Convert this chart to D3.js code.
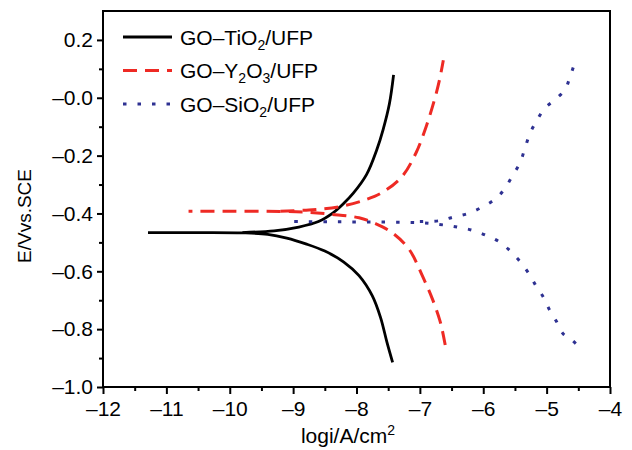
<!DOCTYPE html>
<html>
<head>
<meta charset="utf-8">
<style>
  body { margin: 0; background: #fff; }
  text { font-family: Arial, "Liberation Sans", sans-serif; fill: #000; }
</style>
</head>
<body>
<div id="my_dataviz"></div>
<script src="https://d3js.org/d3.v7.min.js"></script>
<script>

// tick values and labels
var xTicks = [-12, -11, -10, -9, -8, -7, -6, -5, -4];
var xTickLabels = ["–12", "–11", "–10", "–9", "–8", "–7", "–6", "–5", "–4"];
var xMinor = [-11.5, -10.5, -9.5, -8.5, -7.5, -6.5, -5.5, -4.5];
var yTicks = [-1.0, -0.8, -0.6, -0.4, -0.2, 0.0, 0.2];
var yTickLabels = ["–1.0", "–0.8", "–0.6", "–0.4", "–0.2", "–0.0", "0.2"];
var yMinor = [-0.9, -0.7, -0.5, -0.3, -0.1, 0.1];

// legend labels: [text, subscript] pieces
var tio2Label = [["GO–TiO", ""], ["2", "sub"], ["/UFP", ""]];
var y2o3Label = [["GO–Y", ""], ["2", "sub"], ["O", ""], ["3", "sub"], ["/UFP", ""]];
var sio2Label = [["GO–SiO", ""], ["2", "sub"], ["/UFP", ""]];

// polarization curves, [log i, E]
// cathodic branch runs from the lower end to the leftmost tip, anodic from the flat part up
var tio2Cathodic = [[-7.43, -0.915], [-7.52, -0.845], [-7.62, -0.76], [-7.75, -0.685], [-7.96, -0.615],
  [-8.2, -0.568], [-8.5, -0.53], [-8.80, -0.505], [-9.10, -0.485], [-9.40, -0.472],
  [-9.80, -0.467], [-10.5, -0.466], [-11.29, -0.466]];
var tio2Anodic = [[-9.8, -0.466], [-9.3, -0.46], [-8.91, -0.447], [-8.6, -0.428], [-8.37, -0.398],
  [-8.2, -0.365], [-8.05, -0.33], [-7.84, -0.265], [-7.68, -0.18], [-7.58, -0.11], [-7.48, -0.02],
  [-7.415, 0.079]];

var y2o3Cathodic = [[-6.60, -0.855], [-6.65, -0.80], [-6.69, -0.766], [-6.80, -0.697], [-6.96, -0.616],
  [-7.17, -0.524], [-7.44, -0.466], [-7.70, -0.435], [-7.96, -0.415], [-8.39, -0.403], [-8.75, -0.396],
  [-9.2, -0.393], [-10.0, -0.392], [-10.65, -0.392]];
var y2o3Anodic = [[-9.2, -0.392], [-8.75, -0.388], [-8.28, -0.377], [-7.85, -0.352], [-7.59, -0.327],
  [-7.28, -0.272], [-7.06, -0.19], [-6.90, -0.099], [-6.77, -0.007], [-6.69, 0.062], [-6.63, 0.13]];

var sio2Cathodic = [[-4.54, -0.85], [-4.64, -0.83], [-4.74, -0.816], [-4.84, -0.775], [-4.95, -0.735],
  [-5.05, -0.69], [-5.18, -0.646], [-5.24, -0.622], [-5.38, -0.577], [-5.56, -0.533], [-5.74, -0.499],
  [-5.95, -0.476], [-6.19, -0.457], [-6.44, -0.446], [-6.69, -0.438], [-7.0, -0.432], [-7.5, -0.430],
  [-8.3, -0.429], [-9.10, -0.428]];
var sio2Anodic = [[-7.0, -0.428], [-6.69, -0.425], [-6.48, -0.413], [-6.24, -0.40], [-6.01, -0.377],
  [-5.81, -0.35], [-5.66, -0.314], [-5.54, -0.27], [-5.42, -0.225], [-5.34, -0.173], [-5.26, -0.122],
  [-5.16, -0.081], [-5.03, -0.036], [-4.87, -0.007], [-4.71, 0.028], [-4.63, 0.073], [-4.55, 0.125]];

var series = [
  {label: tio2Label, branches: [tio2Cathodic, tio2Anodic], color: "#000000", dash: null, width: 2.8},
  {label: y2o3Label, branches: [y2o3Cathodic, y2o3Anodic], color: "#ee2a24", dash: "14,8", width: 3},
  {label: sio2Label, branches: [sio2Cathodic, sio2Anodic], color: "#2e3192", dash: "3.5,11", width: 3}
];

// dimensions
var margin = {top: 11, right: 22, bottom: 63, left: 103},
    width = 632 - margin.left - margin.right,
    height = 450 - margin.top - margin.bottom;

var svg = d3.select("#my_dataviz")
  .append("svg")
    .attr("width", 632)
    .attr("height", 450)
  .append("g")
    .attr("transform", "translate(" + margin.left + "," + margin.top + ")");

var x = d3.scaleLinear().domain([-12, -4]).range([0, width]);
var y = d3.scaleLinear().domain([-1.0, 0.3]).range([height, 0]);

// minor ticks
svg.append("g")
  .attr("transform", "translate(0," + height + ")")
  .call(d3.axisBottom(x).tickValues(xMinor).tickSize(4).tickSizeOuter(0).tickFormat(""));
svg.append("g")
  .call(d3.axisLeft(y).tickValues(yMinor).tickSize(4).tickSizeOuter(0).tickFormat(""));

// major ticks
var xAxis = svg.append("g")
  .attr("transform", "translate(0," + height + ")")
  .call(d3.axisBottom(x).tickValues(xTicks).tickSize(7).tickSizeOuter(0).tickPadding(7)
    .tickFormat(function(d, i) { return xTickLabels[i]; }));
var yAxis = svg.append("g")
  .call(d3.axisLeft(y).tickValues(yTicks).tickSize(6).tickSizeOuter(0).tickPadding(4)
    .tickFormat(function(d, i) { return yTickLabels[i]; }));

svg.selectAll(".tick line").attr("stroke", "#000").attr("stroke-width", 2);
svg.selectAll(".domain").remove();
svg.selectAll(".tick text")
  .attr("font-size", 21)
  .attr("font-family", "Arial, 'Liberation Sans', sans-serif")
  .attr("fill", "#000");

// frame
svg.append("rect")
  .attr("x", 0).attr("y", 0)
  .attr("width", width).attr("height", height)
  .attr("fill", "none")
  .attr("stroke", "#000")
  .attr("stroke-width", 2);

// curves
var line = d3.line()
  .x(function(d) { return x(d[0]); })
  .y(function(d) { return y(d[1]); })
  .curve(d3.curveCatmullRom.alpha(0.5));

series.forEach(function(s) {
  s.branches.forEach(function(b) {
    svg.append("path")
      .datum(b)
      .attr("fill", "none")
      .attr("stroke", s.color)
      .attr("stroke-width", s.width)
      .attr("stroke-dasharray", s.dash)
      .attr("d", line);
  });
});

// legend
var legendY = [37, 70.5, 104];
series.forEach(function(s, i) {
  var g = svg.append("g").attr("transform", "translate(" + (123 - margin.left) + "," + (legendY[i] - margin.top) + ")");
  g.append("line")
    .attr("x1", 0).attr("x2", 49)
    .attr("y1", 0).attr("y2", 0)
    .attr("stroke", s.color)
    .attr("stroke-width", s.width)
    .attr("stroke-dasharray", s.dash);
  var t = g.append("text").attr("x", 57).attr("y", 7.5).attr("font-size", 21);
  var shifted = false;
  s.label.forEach(function(p) {
    var ts = t.append("tspan").text(p[0]);
    if (p[1] === "sub") {
      ts.attr("font-size", 14).attr("dy", 5);
      shifted = true;
    } else if (shifted) {
      ts.attr("dy", -5);
      shifted = false;
    }
  });
});

// axis titles
var xt = svg.append("text")
  .attr("x", 348 - margin.left)
  .attr("y", 443 - margin.top)
  .attr("text-anchor", "middle")
  .attr("font-size", 21);
xt.append("tspan").text("logi/A/cm");
xt.append("tspan").text("2").attr("font-size", 14).attr("dy", -8);

svg.append("text")
  .attr("transform", "translate(" + (31 - margin.left) + "," + (216 - margin.top) + ") rotate(-90)")
  .attr("text-anchor", "middle")
  .attr("font-size", 19)
  .text("E/Vvs.SCE");

</script>
</body>
</html>
